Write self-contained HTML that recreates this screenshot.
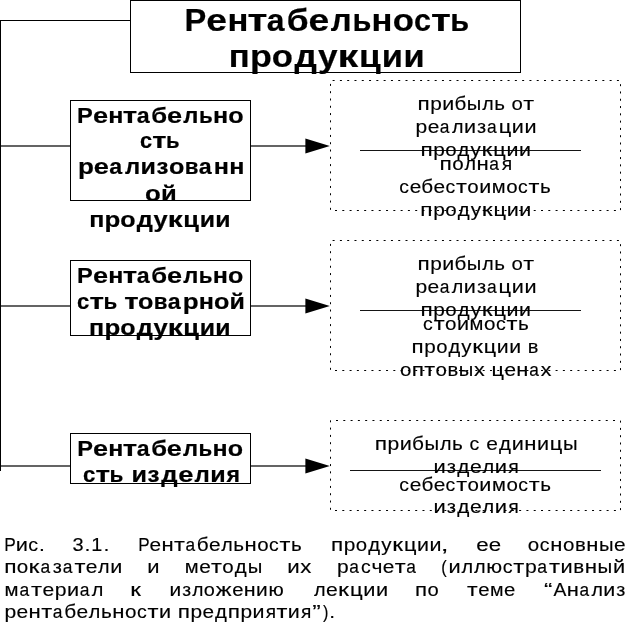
<!DOCTYPE html>
<html><head><meta charset="utf-8"><style>
html,body{margin:0;padding:0;background:#fff;}
body{width:632px;height:622px;overflow:hidden;}
svg{display:block;will-change:transform;}
text{font-family:"Liberation Sans",sans-serif;fill:#000;}
</style></head><body>
<svg width="632" height="622" viewBox="0 0 632 622">
<rect x="0" y="20" width="1" height="451" fill="#000"/>
<rect x="0" y="20" width="130" height="1" fill="#000"/>
<rect x="130.5" y="0.5" width="390" height="72" fill="#fff" stroke="#000" stroke-width="1"/>
<rect x="1" y="145" width="69" height="2" fill="#646464"/>
<rect x="251" y="145" width="55" height="2" fill="#646464"/>
<polygon points="305.4,138.4 305.4,153.6 329.8,146.0" fill="#000"/>
<rect x="1" y="305" width="69" height="2" fill="#646464"/>
<rect x="251" y="305" width="55" height="2" fill="#646464"/>
<polygon points="305.4,298.4 305.4,313.6 329.8,306.0" fill="#000"/>
<rect x="1" y="465" width="69" height="2" fill="#646464"/>
<rect x="251" y="465" width="55" height="2" fill="#646464"/>
<polygon points="305.4,458.4 305.4,473.6 329.8,466.0" fill="#000"/>
<rect x="70.5" y="100.5" width="180" height="100" fill="#fff" stroke="#000" stroke-width="1"/>
<rect x="70.5" y="260.5" width="180" height="75" fill="#fff" stroke="#000" stroke-width="1"/>
<rect x="70.5" y="433.5" width="180" height="50" fill="#fff" stroke="#000" stroke-width="1"/>
<rect x="332.60" y="80" width="2" height="1"/>
<rect x="339.89" y="80" width="2" height="1"/>
<rect x="347.18" y="80" width="2" height="1"/>
<rect x="354.47" y="80" width="2" height="1"/>
<rect x="361.76" y="80" width="2" height="1"/>
<rect x="369.05" y="80" width="2" height="1"/>
<rect x="376.34" y="80" width="2" height="1"/>
<rect x="383.63" y="80" width="2" height="1"/>
<rect x="390.92" y="80" width="2" height="1"/>
<rect x="398.21" y="80" width="2" height="1"/>
<rect x="405.50" y="80" width="2" height="1"/>
<rect x="412.79" y="80" width="2" height="1"/>
<rect x="420.08" y="80" width="2" height="1"/>
<rect x="427.37" y="80" width="2" height="1"/>
<rect x="434.66" y="80" width="2" height="1"/>
<rect x="441.95" y="80" width="2" height="1"/>
<rect x="449.24" y="80" width="2" height="1"/>
<rect x="456.53" y="80" width="2" height="1"/>
<rect x="463.82" y="80" width="2" height="1"/>
<rect x="471.11" y="80" width="2" height="1"/>
<rect x="478.40" y="80" width="2" height="1"/>
<rect x="485.69" y="80" width="2" height="1"/>
<rect x="492.98" y="80" width="2" height="1"/>
<rect x="500.27" y="80" width="2" height="1"/>
<rect x="507.56" y="80" width="2" height="1"/>
<rect x="514.85" y="80" width="2" height="1"/>
<rect x="522.14" y="80" width="2" height="1"/>
<rect x="529.43" y="80" width="2" height="1"/>
<rect x="536.72" y="80" width="2" height="1"/>
<rect x="544.01" y="80" width="2" height="1"/>
<rect x="551.30" y="80" width="2" height="1"/>
<rect x="558.59" y="80" width="2" height="1"/>
<rect x="565.88" y="80" width="2" height="1"/>
<rect x="573.17" y="80" width="2" height="1"/>
<rect x="580.46" y="80" width="2" height="1"/>
<rect x="587.75" y="80" width="2" height="1"/>
<rect x="595.04" y="80" width="2" height="1"/>
<rect x="602.33" y="80" width="2" height="1"/>
<rect x="609.62" y="80" width="2" height="1"/>
<rect x="616.91" y="80" width="2" height="1"/>
<rect x="335.00" y="210" width="2" height="1"/>
<rect x="342.29" y="210" width="2" height="1"/>
<rect x="349.58" y="210" width="2" height="1"/>
<rect x="356.87" y="210" width="2" height="1"/>
<rect x="364.16" y="210" width="2" height="1"/>
<rect x="371.45" y="210" width="2" height="1"/>
<rect x="378.74" y="210" width="2" height="1"/>
<rect x="386.03" y="210" width="2" height="1"/>
<rect x="393.32" y="210" width="2" height="1"/>
<rect x="400.61" y="210" width="2" height="1"/>
<rect x="407.90" y="210" width="2" height="1"/>
<rect x="415.19" y="210" width="2" height="1"/>
<rect x="422.48" y="210" width="2" height="1"/>
<rect x="429.77" y="210" width="2" height="1"/>
<rect x="437.06" y="210" width="2" height="1"/>
<rect x="444.35" y="210" width="2" height="1"/>
<rect x="451.64" y="210" width="2" height="1"/>
<rect x="458.93" y="210" width="2" height="1"/>
<rect x="466.22" y="210" width="2" height="1"/>
<rect x="613.90" y="210" width="2" height="1"/>
<rect x="606.61" y="210" width="2" height="1"/>
<rect x="599.32" y="210" width="2" height="1"/>
<rect x="592.03" y="210" width="2" height="1"/>
<rect x="584.74" y="210" width="2" height="1"/>
<rect x="577.45" y="210" width="2" height="1"/>
<rect x="570.16" y="210" width="2" height="1"/>
<rect x="562.87" y="210" width="2" height="1"/>
<rect x="555.58" y="210" width="2" height="1"/>
<rect x="548.29" y="210" width="2" height="1"/>
<rect x="541.00" y="210" width="2" height="1"/>
<rect x="533.71" y="210" width="2" height="1"/>
<rect x="526.42" y="210" width="2" height="1"/>
<rect x="519.13" y="210" width="2" height="1"/>
<rect x="511.84" y="210" width="2" height="1"/>
<rect x="504.55" y="210" width="2" height="1"/>
<rect x="497.26" y="210" width="2" height="1"/>
<rect x="489.97" y="210" width="2" height="1"/>
<rect x="482.68" y="210" width="2" height="1"/>
<rect x="475.39" y="210" width="2" height="1"/>
<rect x="620" y="208.10" width="1" height="2"/>
<rect x="620" y="200.81" width="1" height="2"/>
<rect x="620" y="193.52" width="1" height="2"/>
<rect x="620" y="186.23" width="1" height="2"/>
<rect x="620" y="178.94" width="1" height="2"/>
<rect x="620" y="171.65" width="1" height="2"/>
<rect x="620" y="164.36" width="1" height="2"/>
<rect x="620" y="157.07" width="1" height="2"/>
<rect x="620" y="149.78" width="1" height="2"/>
<rect x="620" y="142.49" width="1" height="2"/>
<rect x="620" y="135.20" width="1" height="2"/>
<rect x="620" y="127.91" width="1" height="2"/>
<rect x="620" y="120.62" width="1" height="2"/>
<rect x="620" y="113.33" width="1" height="2"/>
<rect x="620" y="106.04" width="1" height="2"/>
<rect x="620" y="98.75" width="1" height="2"/>
<rect x="620" y="91.46" width="1" height="2"/>
<rect x="620" y="84.17" width="1" height="2"/>
<rect x="330" y="83.90" width="1" height="2"/>
<rect x="330" y="91.19" width="1" height="2"/>
<rect x="330" y="98.48" width="1" height="2"/>
<rect x="330" y="105.77" width="1" height="2"/>
<rect x="330" y="113.06" width="1" height="2"/>
<rect x="330" y="120.35" width="1" height="2"/>
<rect x="330" y="127.64" width="1" height="2"/>
<rect x="330" y="134.93" width="1" height="2"/>
<rect x="330" y="142.22" width="1" height="2"/>
<rect x="330" y="149.51" width="1" height="2"/>
<rect x="330" y="156.80" width="1" height="2"/>
<rect x="330" y="164.09" width="1" height="2"/>
<rect x="330" y="171.38" width="1" height="2"/>
<rect x="330" y="178.67" width="1" height="2"/>
<rect x="330" y="185.96" width="1" height="2"/>
<rect x="330" y="193.25" width="1" height="2"/>
<rect x="330" y="200.54" width="1" height="2"/>
<rect x="330" y="207.83" width="1" height="2"/>
<rect x="332.60" y="240" width="2" height="1"/>
<rect x="339.89" y="240" width="2" height="1"/>
<rect x="347.18" y="240" width="2" height="1"/>
<rect x="354.47" y="240" width="2" height="1"/>
<rect x="361.76" y="240" width="2" height="1"/>
<rect x="369.05" y="240" width="2" height="1"/>
<rect x="376.34" y="240" width="2" height="1"/>
<rect x="383.63" y="240" width="2" height="1"/>
<rect x="390.92" y="240" width="2" height="1"/>
<rect x="398.21" y="240" width="2" height="1"/>
<rect x="405.50" y="240" width="2" height="1"/>
<rect x="412.79" y="240" width="2" height="1"/>
<rect x="420.08" y="240" width="2" height="1"/>
<rect x="427.37" y="240" width="2" height="1"/>
<rect x="434.66" y="240" width="2" height="1"/>
<rect x="441.95" y="240" width="2" height="1"/>
<rect x="449.24" y="240" width="2" height="1"/>
<rect x="456.53" y="240" width="2" height="1"/>
<rect x="463.82" y="240" width="2" height="1"/>
<rect x="471.11" y="240" width="2" height="1"/>
<rect x="478.40" y="240" width="2" height="1"/>
<rect x="485.69" y="240" width="2" height="1"/>
<rect x="492.98" y="240" width="2" height="1"/>
<rect x="500.27" y="240" width="2" height="1"/>
<rect x="507.56" y="240" width="2" height="1"/>
<rect x="514.85" y="240" width="2" height="1"/>
<rect x="522.14" y="240" width="2" height="1"/>
<rect x="529.43" y="240" width="2" height="1"/>
<rect x="536.72" y="240" width="2" height="1"/>
<rect x="544.01" y="240" width="2" height="1"/>
<rect x="551.30" y="240" width="2" height="1"/>
<rect x="558.59" y="240" width="2" height="1"/>
<rect x="565.88" y="240" width="2" height="1"/>
<rect x="573.17" y="240" width="2" height="1"/>
<rect x="580.46" y="240" width="2" height="1"/>
<rect x="587.75" y="240" width="2" height="1"/>
<rect x="595.04" y="240" width="2" height="1"/>
<rect x="602.33" y="240" width="2" height="1"/>
<rect x="609.62" y="240" width="2" height="1"/>
<rect x="616.91" y="240" width="2" height="1"/>
<rect x="335.00" y="370" width="2" height="1"/>
<rect x="342.29" y="370" width="2" height="1"/>
<rect x="349.58" y="370" width="2" height="1"/>
<rect x="356.87" y="370" width="2" height="1"/>
<rect x="364.16" y="370" width="2" height="1"/>
<rect x="371.45" y="370" width="2" height="1"/>
<rect x="378.74" y="370" width="2" height="1"/>
<rect x="386.03" y="370" width="2" height="1"/>
<rect x="393.32" y="370" width="2" height="1"/>
<rect x="400.61" y="370" width="2" height="1"/>
<rect x="407.90" y="370" width="2" height="1"/>
<rect x="415.19" y="370" width="2" height="1"/>
<rect x="422.48" y="370" width="2" height="1"/>
<rect x="429.77" y="370" width="2" height="1"/>
<rect x="437.06" y="370" width="2" height="1"/>
<rect x="444.35" y="370" width="2" height="1"/>
<rect x="451.64" y="370" width="2" height="1"/>
<rect x="458.93" y="370" width="2" height="1"/>
<rect x="466.22" y="370" width="2" height="1"/>
<rect x="613.90" y="370" width="2" height="1"/>
<rect x="606.61" y="370" width="2" height="1"/>
<rect x="599.32" y="370" width="2" height="1"/>
<rect x="592.03" y="370" width="2" height="1"/>
<rect x="584.74" y="370" width="2" height="1"/>
<rect x="577.45" y="370" width="2" height="1"/>
<rect x="570.16" y="370" width="2" height="1"/>
<rect x="562.87" y="370" width="2" height="1"/>
<rect x="555.58" y="370" width="2" height="1"/>
<rect x="548.29" y="370" width="2" height="1"/>
<rect x="541.00" y="370" width="2" height="1"/>
<rect x="533.71" y="370" width="2" height="1"/>
<rect x="526.42" y="370" width="2" height="1"/>
<rect x="519.13" y="370" width="2" height="1"/>
<rect x="511.84" y="370" width="2" height="1"/>
<rect x="504.55" y="370" width="2" height="1"/>
<rect x="497.26" y="370" width="2" height="1"/>
<rect x="489.97" y="370" width="2" height="1"/>
<rect x="482.68" y="370" width="2" height="1"/>
<rect x="475.39" y="370" width="2" height="1"/>
<rect x="620" y="368.10" width="1" height="2"/>
<rect x="620" y="360.81" width="1" height="2"/>
<rect x="620" y="353.52" width="1" height="2"/>
<rect x="620" y="346.23" width="1" height="2"/>
<rect x="620" y="338.94" width="1" height="2"/>
<rect x="620" y="331.65" width="1" height="2"/>
<rect x="620" y="324.36" width="1" height="2"/>
<rect x="620" y="317.07" width="1" height="2"/>
<rect x="620" y="309.78" width="1" height="2"/>
<rect x="620" y="302.49" width="1" height="2"/>
<rect x="620" y="295.20" width="1" height="2"/>
<rect x="620" y="287.91" width="1" height="2"/>
<rect x="620" y="280.62" width="1" height="2"/>
<rect x="620" y="273.33" width="1" height="2"/>
<rect x="620" y="266.04" width="1" height="2"/>
<rect x="620" y="258.75" width="1" height="2"/>
<rect x="620" y="251.46" width="1" height="2"/>
<rect x="620" y="244.17" width="1" height="2"/>
<rect x="330" y="243.90" width="1" height="2"/>
<rect x="330" y="251.19" width="1" height="2"/>
<rect x="330" y="258.48" width="1" height="2"/>
<rect x="330" y="265.77" width="1" height="2"/>
<rect x="330" y="273.06" width="1" height="2"/>
<rect x="330" y="280.35" width="1" height="2"/>
<rect x="330" y="287.64" width="1" height="2"/>
<rect x="330" y="294.93" width="1" height="2"/>
<rect x="330" y="302.22" width="1" height="2"/>
<rect x="330" y="309.51" width="1" height="2"/>
<rect x="330" y="316.80" width="1" height="2"/>
<rect x="330" y="324.09" width="1" height="2"/>
<rect x="330" y="331.38" width="1" height="2"/>
<rect x="330" y="338.67" width="1" height="2"/>
<rect x="330" y="345.96" width="1" height="2"/>
<rect x="330" y="353.25" width="1" height="2"/>
<rect x="330" y="360.54" width="1" height="2"/>
<rect x="330" y="367.83" width="1" height="2"/>
<rect x="336.00" y="420" width="2" height="1"/>
<rect x="343.29" y="420" width="2" height="1"/>
<rect x="350.58" y="420" width="2" height="1"/>
<rect x="357.87" y="420" width="2" height="1"/>
<rect x="365.16" y="420" width="2" height="1"/>
<rect x="372.45" y="420" width="2" height="1"/>
<rect x="379.74" y="420" width="2" height="1"/>
<rect x="387.03" y="420" width="2" height="1"/>
<rect x="394.32" y="420" width="2" height="1"/>
<rect x="401.61" y="420" width="2" height="1"/>
<rect x="408.90" y="420" width="2" height="1"/>
<rect x="416.19" y="420" width="2" height="1"/>
<rect x="423.48" y="420" width="2" height="1"/>
<rect x="430.77" y="420" width="2" height="1"/>
<rect x="438.06" y="420" width="2" height="1"/>
<rect x="445.35" y="420" width="2" height="1"/>
<rect x="452.64" y="420" width="2" height="1"/>
<rect x="459.93" y="420" width="2" height="1"/>
<rect x="467.22" y="420" width="2" height="1"/>
<rect x="474.51" y="420" width="2" height="1"/>
<rect x="481.80" y="420" width="2" height="1"/>
<rect x="489.09" y="420" width="2" height="1"/>
<rect x="496.38" y="420" width="2" height="1"/>
<rect x="503.67" y="420" width="2" height="1"/>
<rect x="510.96" y="420" width="2" height="1"/>
<rect x="518.25" y="420" width="2" height="1"/>
<rect x="525.54" y="420" width="2" height="1"/>
<rect x="532.83" y="420" width="2" height="1"/>
<rect x="540.12" y="420" width="2" height="1"/>
<rect x="547.41" y="420" width="2" height="1"/>
<rect x="554.70" y="420" width="2" height="1"/>
<rect x="561.99" y="420" width="2" height="1"/>
<rect x="569.28" y="420" width="2" height="1"/>
<rect x="576.57" y="420" width="2" height="1"/>
<rect x="583.86" y="420" width="2" height="1"/>
<rect x="591.15" y="420" width="2" height="1"/>
<rect x="598.44" y="420" width="2" height="1"/>
<rect x="605.73" y="420" width="2" height="1"/>
<rect x="613.02" y="420" width="2" height="1"/>
<rect x="335.00" y="510" width="2" height="1"/>
<rect x="342.29" y="510" width="2" height="1"/>
<rect x="349.58" y="510" width="2" height="1"/>
<rect x="356.87" y="510" width="2" height="1"/>
<rect x="364.16" y="510" width="2" height="1"/>
<rect x="371.45" y="510" width="2" height="1"/>
<rect x="378.74" y="510" width="2" height="1"/>
<rect x="386.03" y="510" width="2" height="1"/>
<rect x="393.32" y="510" width="2" height="1"/>
<rect x="400.61" y="510" width="2" height="1"/>
<rect x="407.90" y="510" width="2" height="1"/>
<rect x="415.19" y="510" width="2" height="1"/>
<rect x="422.48" y="510" width="2" height="1"/>
<rect x="429.77" y="510" width="2" height="1"/>
<rect x="437.06" y="510" width="2" height="1"/>
<rect x="444.35" y="510" width="2" height="1"/>
<rect x="451.64" y="510" width="2" height="1"/>
<rect x="458.93" y="510" width="2" height="1"/>
<rect x="466.22" y="510" width="2" height="1"/>
<rect x="613.90" y="510" width="2" height="1"/>
<rect x="606.61" y="510" width="2" height="1"/>
<rect x="599.32" y="510" width="2" height="1"/>
<rect x="592.03" y="510" width="2" height="1"/>
<rect x="584.74" y="510" width="2" height="1"/>
<rect x="577.45" y="510" width="2" height="1"/>
<rect x="570.16" y="510" width="2" height="1"/>
<rect x="562.87" y="510" width="2" height="1"/>
<rect x="555.58" y="510" width="2" height="1"/>
<rect x="548.29" y="510" width="2" height="1"/>
<rect x="541.00" y="510" width="2" height="1"/>
<rect x="533.71" y="510" width="2" height="1"/>
<rect x="526.42" y="510" width="2" height="1"/>
<rect x="519.13" y="510" width="2" height="1"/>
<rect x="511.84" y="510" width="2" height="1"/>
<rect x="504.55" y="510" width="2" height="1"/>
<rect x="497.26" y="510" width="2" height="1"/>
<rect x="489.97" y="510" width="2" height="1"/>
<rect x="482.68" y="510" width="2" height="1"/>
<rect x="475.39" y="510" width="2" height="1"/>
<rect x="620" y="508.10" width="1" height="2"/>
<rect x="620" y="500.81" width="1" height="2"/>
<rect x="620" y="493.52" width="1" height="2"/>
<rect x="620" y="486.23" width="1" height="2"/>
<rect x="620" y="478.94" width="1" height="2"/>
<rect x="620" y="471.65" width="1" height="2"/>
<rect x="620" y="464.36" width="1" height="2"/>
<rect x="620" y="457.07" width="1" height="2"/>
<rect x="620" y="449.78" width="1" height="2"/>
<rect x="620" y="442.49" width="1" height="2"/>
<rect x="620" y="435.20" width="1" height="2"/>
<rect x="620" y="427.91" width="1" height="2"/>
<rect x="620" y="420.62" width="1" height="2"/>
<rect x="330" y="507.80" width="1" height="2"/>
<rect x="330" y="500.51" width="1" height="2"/>
<rect x="330" y="493.22" width="1" height="2"/>
<rect x="330" y="485.93" width="1" height="2"/>
<rect x="330" y="478.64" width="1" height="2"/>
<rect x="330" y="471.35" width="1" height="2"/>
<rect x="330" y="464.06" width="1" height="2"/>
<rect x="330" y="456.77" width="1" height="2"/>
<rect x="330" y="449.48" width="1" height="2"/>
<rect x="330" y="442.19" width="1" height="2"/>
<rect x="330" y="434.90" width="1" height="2"/>
<rect x="330" y="427.61" width="1" height="2"/>
<rect x="330" y="420.32" width="1" height="2"/>
<rect x="360" y="150" width="221" height="1" fill="#151515"/>
<rect x="360" y="310" width="221" height="1" fill="#151515"/>
<rect x="350" y="470" width="251" height="1" fill="#151515"/>
<g id="t0" font-weight="bold" stroke="#000" stroke-width="0.2"><text transform="translate(184.48,31.00) scale(1.013,1)" font-size="32.2">Р</text><text transform="translate(206.25,31.00) scale(1.161,1)" font-size="32.2">е</text><text transform="translate(227.42,31.00) scale(1.076,1)" font-size="32.2">н</text><text transform="translate(247.48,31.00) scale(1.259,1)" font-size="32.2">т</text><text transform="translate(266.72,31.00) scale(0.991,1)" font-size="32.2">а</text><text transform="translate(286.79,31.00) scale(1.099,1)" font-size="32.2">б</text><text transform="translate(308.44,31.00) scale(1.161,1)" font-size="32.2">е</text><text transform="translate(330.80,31.00) scale(1.021,1)" font-size="32.2">л</text><text transform="translate(352.40,31.00) scale(0.957,1)" font-size="32.2">ь</text><text transform="translate(371.59,31.00) scale(1.076,1)" font-size="32.2">н</text><text transform="translate(392.64,31.00) scale(1.078,1)" font-size="32.2">о</text><text transform="translate(413.94,31.00) scale(0.946,1)" font-size="32.2">с</text><text transform="translate(431.02,31.00) scale(1.259,1)" font-size="32.2">т</text><text transform="translate(450.31,31.00) scale(0.957,1)" font-size="32.2">ь</text></g>
<g id="t1" font-weight="bold" stroke="#000" stroke-width="0.2"><text transform="translate(228.67,67.00) scale(1.077,1)" font-size="32.2">п</text><text transform="translate(250.00,67.00) scale(1.114,1)" font-size="32.2">р</text><text transform="translate(271.78,67.00) scale(1.079,1)" font-size="32.2">о</text><text transform="translate(294.46,67.00) scale(1.091,1)" font-size="32.2">д</text><text transform="translate(317.93,67.00) scale(1.095,1)" font-size="32.2">у</text><text transform="translate(337.62,67.00) scale(1.285,1)" font-size="32.2">к</text><text transform="translate(358.92,67.00) scale(1.096,1)" font-size="32.2">ц</text><text transform="translate(381.82,67.00) scale(1.070,1)" font-size="32.2">и</text><text transform="translate(403.39,67.00) scale(1.070,1)" font-size="32.2">и</text></g>
<g id="t2" font-weight="bold" stroke="#000" stroke-width="0.2"><text transform="translate(77.11,122.60) scale(1.038,1)" font-size="22.8">Р</text><text transform="translate(92.91,122.60) scale(1.190,1)" font-size="22.8">е</text><text transform="translate(108.27,122.60) scale(1.103,1)" font-size="22.8">н</text><text transform="translate(122.83,122.60) scale(1.290,1)" font-size="22.8">т</text><text transform="translate(136.80,122.60) scale(1.016,1)" font-size="22.8">а</text><text transform="translate(151.36,122.60) scale(1.127,1)" font-size="22.8">б</text><text transform="translate(167.07,122.60) scale(1.190,1)" font-size="22.8">е</text><text transform="translate(183.30,122.60) scale(1.046,1)" font-size="22.8">л</text><text transform="translate(198.98,122.60) scale(0.981,1)" font-size="22.8">ь</text><text transform="translate(212.90,122.60) scale(1.103,1)" font-size="22.8">н</text><text transform="translate(228.19,122.60) scale(1.105,1)" font-size="22.8">о</text></g>
<g id="t3" font-weight="bold" stroke="#000" stroke-width="0.2"><text transform="translate(139.97,148.40) scale(0.957,1)" font-size="22.8">с</text><text transform="translate(152.20,148.40) scale(1.273,1)" font-size="22.8">т</text><text transform="translate(166.01,148.40) scale(0.968,1)" font-size="22.8">ь</text></g>
<g id="t4" font-weight="bold" stroke="#000" stroke-width="0.2"><text transform="translate(77.93,174.40) scale(1.142,1)" font-size="22.8">р</text><text transform="translate(93.68,174.40) scale(1.192,1)" font-size="22.8">е</text><text transform="translate(109.22,174.40) scale(1.017,1)" font-size="22.8">а</text><text transform="translate(125.02,174.40) scale(1.048,1)" font-size="22.8">л</text><text transform="translate(140.55,174.40) scale(1.097,1)" font-size="22.8">и</text><text transform="translate(156.54,174.40) scale(1.051,1)" font-size="22.8">з</text><text transform="translate(169.03,174.40) scale(1.106,1)" font-size="22.8">о</text><text transform="translate(184.74,174.40) scale(0.979,1)" font-size="22.8">в</text><text transform="translate(198.85,174.40) scale(1.017,1)" font-size="22.8">а</text><text transform="translate(213.77,174.40) scale(1.104,1)" font-size="22.8">н</text><text transform="translate(229.22,174.40) scale(1.104,1)" font-size="22.8">н</text></g>
<g id="t5" font-weight="bold" stroke="#000" stroke-width="0.2"><text transform="translate(145.00,200.50) scale(1.133,1)" font-size="22.8">о</text><text transform="translate(160.91,200.50) scale(1.124,1)" font-size="22.8">й</text></g>
<g id="t6" font-weight="bold" stroke="#000" stroke-width="0.2"><text transform="translate(89.14,226.70) scale(1.098,1)" font-size="22.8">п</text><text transform="translate(104.54,226.70) scale(1.136,1)" font-size="22.8">р</text><text transform="translate(120.27,226.70) scale(1.100,1)" font-size="22.8">о</text><text transform="translate(136.65,226.70) scale(1.113,1)" font-size="22.8">д</text><text transform="translate(153.60,226.70) scale(1.116,1)" font-size="22.8">у</text><text transform="translate(167.82,226.70) scale(1.311,1)" font-size="22.8">к</text><text transform="translate(183.20,226.70) scale(1.117,1)" font-size="22.8">ц</text><text transform="translate(199.73,226.70) scale(1.091,1)" font-size="22.8">и</text><text transform="translate(215.31,226.70) scale(1.091,1)" font-size="22.8">и</text></g>
<g id="t7" font-weight="bold" stroke="#000" stroke-width="0.2"><text transform="translate(77.12,282.60) scale(1.037,1)" font-size="22.8">Р</text><text transform="translate(92.89,282.60) scale(1.188,1)" font-size="22.8">е</text><text transform="translate(108.23,282.60) scale(1.101,1)" font-size="22.8">н</text><text transform="translate(122.77,282.60) scale(1.288,1)" font-size="22.8">т</text><text transform="translate(136.71,282.60) scale(1.014,1)" font-size="22.8">а</text><text transform="translate(151.26,282.60) scale(1.125,1)" font-size="22.8">б</text><text transform="translate(166.94,282.60) scale(1.188,1)" font-size="22.8">е</text><text transform="translate(183.14,282.60) scale(1.045,1)" font-size="22.8">л</text><text transform="translate(198.80,282.60) scale(0.980,1)" font-size="22.8">ь</text><text transform="translate(212.70,282.60) scale(1.101,1)" font-size="22.8">н</text><text transform="translate(227.96,282.60) scale(1.103,1)" font-size="22.8">о</text></g>
<g id="t8" font-weight="bold" stroke="#000" stroke-width="0.2"><text transform="translate(77.07,308.50) scale(0.970,1)" font-size="22.8">с</text><text transform="translate(89.47,308.50) scale(1.291,1)" font-size="22.8">т</text><text transform="translate(103.47,308.50) scale(0.981,1)" font-size="22.8">ь</text><text transform="translate(124.31,308.50) scale(1.291,1)" font-size="22.8">т</text><text transform="translate(137.98,308.50) scale(1.105,1)" font-size="22.8">о</text><text transform="translate(153.67,308.50) scale(0.978,1)" font-size="22.8">в</text><text transform="translate(167.76,308.50) scale(1.016,1)" font-size="22.8">а</text><text transform="translate(182.71,308.50) scale(1.141,1)" font-size="22.8">р</text><text transform="translate(198.66,308.50) scale(1.103,1)" font-size="22.8">н</text><text transform="translate(213.95,308.50) scale(1.105,1)" font-size="22.8">о</text><text transform="translate(229.46,308.50) scale(1.096,1)" font-size="22.8">й</text></g>
<g id="t9" font-weight="bold" stroke="#000" stroke-width="0.2"><text transform="translate(89.12,334.70) scale(1.098,1)" font-size="22.8">п</text><text transform="translate(104.52,334.70) scale(1.136,1)" font-size="22.8">р</text><text transform="translate(120.26,334.70) scale(1.100,1)" font-size="22.8">о</text><text transform="translate(136.63,334.70) scale(1.113,1)" font-size="22.8">д</text><text transform="translate(153.59,334.70) scale(1.117,1)" font-size="22.8">у</text><text transform="translate(167.81,334.70) scale(1.311,1)" font-size="22.8">к</text><text transform="translate(183.19,334.70) scale(1.118,1)" font-size="22.8">ц</text><text transform="translate(199.73,334.70) scale(1.091,1)" font-size="22.8">и</text><text transform="translate(215.31,334.70) scale(1.091,1)" font-size="22.8">и</text></g>
<g id="t10" font-weight="bold" stroke="#000" stroke-width="0.2"><text transform="translate(77.19,456.00) scale(1.035,1)" font-size="22.8">Р</text><text transform="translate(92.93,456.00) scale(1.186,1)" font-size="22.8">е</text><text transform="translate(108.24,456.00) scale(1.099,1)" font-size="22.8">н</text><text transform="translate(122.74,456.00) scale(1.286,1)" font-size="22.8">т</text><text transform="translate(136.66,456.00) scale(1.012,1)" font-size="22.8">а</text><text transform="translate(151.17,456.00) scale(1.122,1)" font-size="22.8">б</text><text transform="translate(166.82,456.00) scale(1.186,1)" font-size="22.8">е</text><text transform="translate(183.00,456.00) scale(1.043,1)" font-size="22.8">л</text><text transform="translate(198.62,456.00) scale(0.978,1)" font-size="22.8">ь</text><text transform="translate(212.49,456.00) scale(1.099,1)" font-size="22.8">н</text><text transform="translate(227.72,456.00) scale(1.101,1)" font-size="22.8">о</text></g>
<g id="t11" font-weight="bold" stroke="#000" stroke-width="0.2"><text transform="translate(83.01,481.90) scale(0.977,1)" font-size="22.8">с</text><text transform="translate(95.50,481.90) scale(1.300,1)" font-size="22.8">т</text><text transform="translate(109.60,481.90) scale(0.988,1)" font-size="22.8">ь</text><text transform="translate(131.48,481.90) scale(1.104,1)" font-size="22.8">и</text><text transform="translate(147.57,481.90) scale(1.057,1)" font-size="22.8">з</text><text transform="translate(161.25,481.90) scale(1.126,1)" font-size="22.8">д</text><text transform="translate(178.23,481.90) scale(1.199,1)" font-size="22.8">е</text><text transform="translate(194.58,481.90) scale(1.054,1)" font-size="22.8">л</text><text transform="translate(210.20,481.90) scale(1.104,1)" font-size="22.8">и</text><text transform="translate(226.52,481.90) scale(1.015,1)" font-size="22.8">я</text></g>
<g id="t12" stroke="#000" stroke-width="0.15"><text transform="translate(417.50,110.00) scale(1.173,1)" font-size="19.2">п</text><text transform="translate(430.28,110.00) scale(1.089,1)" font-size="19.2">р</text><text transform="translate(442.34,110.00) scale(1.116,1)" font-size="19.2">и</text><text transform="translate(454.41,110.00) scale(1.075,1)" font-size="19.2">б</text><text transform="translate(466.76,110.00) scale(1.052,1)" font-size="19.2">ы</text><text transform="translate(482.20,110.00) scale(1.021,1)" font-size="19.2">л</text><text transform="translate(494.19,110.00) scale(1.071,1)" font-size="19.2">ь</text><text transform="translate(511.50,110.00) scale(1.064,1)" font-size="19.2">о</text><text transform="translate(523.21,110.00) scale(1.237,1)" font-size="19.2">т</text></g>
<g id="t13" stroke="#000" stroke-width="0.15"><text transform="translate(415.59,132.80) scale(1.098,1)" font-size="19.2">р</text><text transform="translate(427.66,132.80) scale(1.090,1)" font-size="19.2">е</text><text transform="translate(439.82,132.80) scale(0.907,1)" font-size="19.2">а</text><text transform="translate(451.88,132.80) scale(1.029,1)" font-size="19.2">л</text><text transform="translate(463.91,132.80) scale(1.125,1)" font-size="19.2">и</text><text transform="translate(477.02,132.80) scale(1.036,1)" font-size="19.2">з</text><text transform="translate(486.96,132.80) scale(0.907,1)" font-size="19.2">а</text><text transform="translate(498.64,132.80) scale(1.142,1)" font-size="19.2">ц</text><text transform="translate(511.85,132.80) scale(1.125,1)" font-size="19.2">и</text><text transform="translate(524.44,132.80) scale(1.125,1)" font-size="19.2">и</text></g>
<g id="t14" stroke="#000" stroke-width="0.15"><text transform="translate(420.38,155.60) scale(1.174,1)" font-size="19.2">п</text><text transform="translate(433.17,155.60) scale(1.090,1)" font-size="19.2">р</text><text transform="translate(445.19,155.60) scale(1.065,1)" font-size="19.2">о</text><text transform="translate(457.56,155.60) scale(1.056,1)" font-size="19.2">д</text><text transform="translate(470.58,155.60) scale(1.076,1)" font-size="19.2">у</text><text transform="translate(481.53,155.60) scale(1.282,1)" font-size="19.2">к</text><text transform="translate(493.30,155.60) scale(1.134,1)" font-size="19.2">ц</text><text transform="translate(506.41,155.60) scale(1.117,1)" font-size="19.2">и</text><text transform="translate(518.92,155.60) scale(1.117,1)" font-size="19.2">и</text></g>
<g id="t15" stroke="#000" stroke-width="0.15"><text transform="translate(439.41,170.00) scale(1.186,1)" font-size="19.2">п</text><text transform="translate(452.14,170.00) scale(1.076,1)" font-size="19.2">о</text><text transform="translate(464.44,170.00) scale(1.033,1)" font-size="19.2">л</text><text transform="translate(476.47,170.00) scale(1.156,1)" font-size="19.2">н</text><text transform="translate(489.37,170.00) scale(0.910,1)" font-size="19.2">а</text><text transform="translate(501.80,170.00) scale(1.004,1)" font-size="19.2">я</text></g>
<g id="t16" stroke="#000" stroke-width="0.15"><text transform="translate(399.30,192.60) scale(1.008,1)" font-size="19.2">с</text><text transform="translate(409.84,192.60) scale(1.085,1)" font-size="19.2">е</text><text transform="translate(421.37,192.60) scale(1.079,1)" font-size="19.2">б</text><text transform="translate(433.60,192.60) scale(1.085,1)" font-size="19.2">е</text><text transform="translate(445.53,192.60) scale(1.008,1)" font-size="19.2">с</text><text transform="translate(456.05,192.60) scale(1.242,1)" font-size="19.2">т</text><text transform="translate(467.34,192.60) scale(1.068,1)" font-size="19.2">о</text><text transform="translate(479.19,192.60) scale(1.120,1)" font-size="19.2">и</text><text transform="translate(491.83,192.60) scale(1.048,1)" font-size="19.2">м</text><text transform="translate(506.23,192.60) scale(1.068,1)" font-size="19.2">о</text><text transform="translate(518.07,192.60) scale(1.008,1)" font-size="19.2">с</text><text transform="translate(528.59,192.60) scale(1.242,1)" font-size="19.2">т</text><text transform="translate(539.99,192.60) scale(1.075,1)" font-size="19.2">ь</text></g>
<g id="t17" stroke="#000" stroke-width="0.15"><text transform="translate(420.35,215.60) scale(1.180,1)" font-size="19.2">п</text><text transform="translate(433.20,215.60) scale(1.095,1)" font-size="19.2">р</text><text transform="translate(445.27,215.60) scale(1.070,1)" font-size="19.2">о</text><text transform="translate(457.70,215.60) scale(1.061,1)" font-size="19.2">д</text><text transform="translate(470.77,215.60) scale(1.081,1)" font-size="19.2">у</text><text transform="translate(481.77,215.60) scale(1.288,1)" font-size="19.2">к</text><text transform="translate(493.59,215.60) scale(1.139,1)" font-size="19.2">ц</text><text transform="translate(506.76,215.60) scale(1.122,1)" font-size="19.2">и</text><text transform="translate(519.32,215.60) scale(1.122,1)" font-size="19.2">и</text></g>
<g id="t18" stroke="#000" stroke-width="0.15"><text transform="translate(417.50,270.00) scale(1.173,1)" font-size="19.2">п</text><text transform="translate(430.28,270.00) scale(1.089,1)" font-size="19.2">р</text><text transform="translate(442.34,270.00) scale(1.116,1)" font-size="19.2">и</text><text transform="translate(454.41,270.00) scale(1.075,1)" font-size="19.2">б</text><text transform="translate(466.76,270.00) scale(1.052,1)" font-size="19.2">ы</text><text transform="translate(482.20,270.00) scale(1.021,1)" font-size="19.2">л</text><text transform="translate(494.19,270.00) scale(1.071,1)" font-size="19.2">ь</text><text transform="translate(511.50,270.00) scale(1.064,1)" font-size="19.2">о</text><text transform="translate(523.21,270.00) scale(1.237,1)" font-size="19.2">т</text></g>
<g id="t19" stroke="#000" stroke-width="0.15"><text transform="translate(415.46,292.60) scale(1.099,1)" font-size="19.2">р</text><text transform="translate(427.55,292.60) scale(1.091,1)" font-size="19.2">е</text><text transform="translate(439.72,292.60) scale(0.908,1)" font-size="19.2">а</text><text transform="translate(451.80,292.60) scale(1.031,1)" font-size="19.2">л</text><text transform="translate(463.84,292.60) scale(1.126,1)" font-size="19.2">и</text><text transform="translate(476.97,292.60) scale(1.037,1)" font-size="19.2">з</text><text transform="translate(486.92,292.60) scale(0.908,1)" font-size="19.2">а</text><text transform="translate(498.62,292.60) scale(1.144,1)" font-size="19.2">ц</text><text transform="translate(511.85,292.60) scale(1.126,1)" font-size="19.2">и</text><text transform="translate(524.45,292.60) scale(1.126,1)" font-size="19.2">и</text></g>
<g id="t20" stroke="#000" stroke-width="0.15"><text transform="translate(420.50,315.60) scale(1.174,1)" font-size="19.2">п</text><text transform="translate(433.29,315.60) scale(1.090,1)" font-size="19.2">р</text><text transform="translate(445.30,315.60) scale(1.065,1)" font-size="19.2">о</text><text transform="translate(457.68,315.60) scale(1.056,1)" font-size="19.2">д</text><text transform="translate(470.69,315.60) scale(1.076,1)" font-size="19.2">у</text><text transform="translate(481.64,315.60) scale(1.282,1)" font-size="19.2">к</text><text transform="translate(493.40,315.60) scale(1.134,1)" font-size="19.2">ц</text><text transform="translate(506.52,315.60) scale(1.117,1)" font-size="19.2">и</text><text transform="translate(519.02,315.60) scale(1.117,1)" font-size="19.2">и</text></g>
<g id="t21" stroke="#000" stroke-width="0.15"><text transform="translate(423.06,330.00) scale(1.014,1)" font-size="19.2">с</text><text transform="translate(433.64,330.00) scale(1.249,1)" font-size="19.2">т</text><text transform="translate(444.98,330.00) scale(1.074,1)" font-size="19.2">о</text><text transform="translate(456.91,330.00) scale(1.127,1)" font-size="19.2">и</text><text transform="translate(469.61,330.00) scale(1.053,1)" font-size="19.2">м</text><text transform="translate(484.09,330.00) scale(1.074,1)" font-size="19.2">о</text><text transform="translate(496.00,330.00) scale(1.014,1)" font-size="19.2">с</text><text transform="translate(506.58,330.00) scale(1.249,1)" font-size="19.2">т</text><text transform="translate(518.04,330.00) scale(1.081,1)" font-size="19.2">ь</text></g>
<g id="t22" stroke="#000" stroke-width="0.15"><text transform="translate(411.56,352.80) scale(1.163,1)" font-size="19.2">п</text><text transform="translate(424.23,352.80) scale(1.080,1)" font-size="19.2">р</text><text transform="translate(436.13,352.80) scale(1.055,1)" font-size="19.2">о</text><text transform="translate(448.39,352.80) scale(1.047,1)" font-size="19.2">д</text><text transform="translate(461.29,352.80) scale(1.066,1)" font-size="19.2">у</text><text transform="translate(472.14,352.80) scale(1.271,1)" font-size="19.2">к</text><text transform="translate(483.80,352.80) scale(1.124,1)" font-size="19.2">ц</text><text transform="translate(496.79,352.80) scale(1.107,1)" font-size="19.2">и</text><text transform="translate(509.18,352.80) scale(1.107,1)" font-size="19.2">и</text><text transform="translate(527.71,352.80) scale(1.042,1)" font-size="19.2">в</text></g>
<g id="t23" stroke="#000" stroke-width="0.15"><text transform="translate(399.91,375.70) scale(1.067,1)" font-size="19.2">о</text><text transform="translate(411.68,375.70) scale(1.176,1)" font-size="19.2">п</text><text transform="translate(424.25,375.70) scale(1.240,1)" font-size="19.2">т</text><text transform="translate(435.51,375.70) scale(1.067,1)" font-size="19.2">о</text><text transform="translate(447.44,375.70) scale(1.054,1)" font-size="19.2">в</text><text transform="translate(458.79,375.70) scale(1.055,1)" font-size="19.2">ы</text><text transform="translate(473.97,375.70) scale(1.113,1)" font-size="19.2">х</text><text transform="translate(491.42,375.70) scale(1.136,1)" font-size="19.2">ц</text><text transform="translate(504.47,375.70) scale(1.084,1)" font-size="19.2">е</text><text transform="translate(516.37,375.70) scale(1.145,1)" font-size="19.2">н</text><text transform="translate(529.16,375.70) scale(0.902,1)" font-size="19.2">а</text><text transform="translate(540.85,375.70) scale(1.113,1)" font-size="19.2">х</text></g>
<g id="t24" stroke="#000" stroke-width="0.15"><text transform="translate(374.65,449.80) scale(1.184,1)" font-size="19.2">п</text><text transform="translate(387.55,449.80) scale(1.099,1)" font-size="19.2">р</text><text transform="translate(399.72,449.80) scale(1.127,1)" font-size="19.2">и</text><text transform="translate(411.91,449.80) scale(1.086,1)" font-size="19.2">б</text><text transform="translate(424.38,449.80) scale(1.062,1)" font-size="19.2">ы</text><text transform="translate(439.96,449.80) scale(1.031,1)" font-size="19.2">л</text><text transform="translate(452.07,449.80) scale(1.081,1)" font-size="19.2">ь</text><text transform="translate(469.59,449.80) scale(1.014,1)" font-size="19.2">с</text><text transform="translate(486.36,449.80) scale(1.091,1)" font-size="19.2">е</text><text transform="translate(498.93,449.80) scale(1.065,1)" font-size="19.2">д</text><text transform="translate(511.79,449.80) scale(1.127,1)" font-size="19.2">и</text><text transform="translate(524.37,449.80) scale(1.154,1)" font-size="19.2">н</text><text transform="translate(537.09,449.80) scale(1.127,1)" font-size="19.2">и</text><text transform="translate(549.67,449.80) scale(1.144,1)" font-size="19.2">ц</text><text transform="translate(562.98,449.80) scale(1.062,1)" font-size="19.2">ы</text></g>
<g id="t25" stroke="#000" stroke-width="0.15"><text transform="translate(433.40,472.70) scale(1.140,1)" font-size="19.2">и</text><text transform="translate(446.68,472.70) scale(1.050,1)" font-size="19.2">з</text><text transform="translate(457.15,472.70) scale(1.078,1)" font-size="19.2">д</text><text transform="translate(470.09,472.70) scale(1.104,1)" font-size="19.2">е</text><text transform="translate(482.60,472.70) scale(1.043,1)" font-size="19.2">л</text><text transform="translate(494.79,472.70) scale(1.140,1)" font-size="19.2">и</text><text transform="translate(508.24,472.70) scale(1.014,1)" font-size="19.2">я</text></g>
<g id="t26" stroke="#000" stroke-width="0.15"><text transform="translate(399.28,490.80) scale(1.010,1)" font-size="19.2">с</text><text transform="translate(409.85,490.80) scale(1.087,1)" font-size="19.2">е</text><text transform="translate(421.40,490.80) scale(1.082,1)" font-size="19.2">б</text><text transform="translate(433.66,490.80) scale(1.087,1)" font-size="19.2">е</text><text transform="translate(445.61,490.80) scale(1.010,1)" font-size="19.2">с</text><text transform="translate(456.16,490.80) scale(1.244,1)" font-size="19.2">т</text><text transform="translate(467.46,490.80) scale(1.070,1)" font-size="19.2">о</text><text transform="translate(479.34,490.80) scale(1.123,1)" font-size="19.2">и</text><text transform="translate(492.00,490.80) scale(1.050,1)" font-size="19.2">м</text><text transform="translate(506.43,490.80) scale(1.070,1)" font-size="19.2">о</text><text transform="translate(518.29,490.80) scale(1.010,1)" font-size="19.2">с</text><text transform="translate(528.84,490.80) scale(1.244,1)" font-size="19.2">т</text><text transform="translate(540.26,490.80) scale(1.077,1)" font-size="19.2">ь</text></g>
<g id="t27" stroke="#000" stroke-width="0.15"><text transform="translate(433.40,512.90) scale(1.140,1)" font-size="19.2">и</text><text transform="translate(446.68,512.90) scale(1.050,1)" font-size="19.2">з</text><text transform="translate(457.15,512.90) scale(1.078,1)" font-size="19.2">д</text><text transform="translate(470.09,512.90) scale(1.104,1)" font-size="19.2">е</text><text transform="translate(482.60,512.90) scale(1.043,1)" font-size="19.2">л</text><text transform="translate(494.79,512.90) scale(1.140,1)" font-size="19.2">и</text><text transform="translate(508.24,512.90) scale(1.014,1)" font-size="19.2">я</text></g>
<g id="t28" stroke="#000" stroke-width="0.15"><text transform="translate(4.13,550.80) scale(0.900,1)" font-size="19.2">Р</text><text transform="translate(15.67,550.80) scale(1.135,1)" font-size="19.2">и</text><text transform="translate(28.35,550.80) scale(1.021,1)" font-size="19.2">с</text><text transform="translate(39.00,550.80) scale(1.101,1)" font-size="19.2">.</text></g>
<g id="t29" stroke="#000" stroke-width="0.15"><text transform="translate(72.60,550.80) scale(1.041,1)" font-size="19.2">3</text><text transform="translate(84.58,550.80) scale(1.113,1)" font-size="19.2">.</text><text transform="translate(91.35,550.80) scale(1.035,1)" font-size="19.2">1</text><text transform="translate(103.42,550.80) scale(1.113,1)" font-size="19.2">.</text></g>
<g id="t30" stroke="#000" stroke-width="0.15"><text transform="translate(138.19,550.80) scale(0.889,1)" font-size="19.2">Р</text><text transform="translate(149.52,550.80) scale(1.086,1)" font-size="19.2">е</text><text transform="translate(161.43,550.80) scale(1.147,1)" font-size="19.2">н</text><text transform="translate(173.98,550.80) scale(1.242,1)" font-size="19.2">т</text><text transform="translate(185.49,550.80) scale(0.904,1)" font-size="19.2">а</text><text transform="translate(196.73,550.80) scale(1.080,1)" font-size="19.2">б</text><text transform="translate(208.97,550.80) scale(1.086,1)" font-size="19.2">е</text><text transform="translate(221.27,550.80) scale(1.025,1)" font-size="19.2">л</text><text transform="translate(233.32,550.80) scale(1.076,1)" font-size="19.2">ь</text><text transform="translate(244.60,550.80) scale(1.147,1)" font-size="19.2">н</text><text transform="translate(257.19,550.80) scale(1.068,1)" font-size="19.2">о</text><text transform="translate(269.04,550.80) scale(1.008,1)" font-size="19.2">с</text><text transform="translate(279.56,550.80) scale(1.242,1)" font-size="19.2">т</text><text transform="translate(290.97,550.80) scale(1.076,1)" font-size="19.2">ь</text></g>
<g id="t31" stroke="#000" stroke-width="0.15"><text transform="translate(331.06,550.80) scale(1.173,1)" font-size="19.2">п</text><text transform="translate(343.84,550.80) scale(1.089,1)" font-size="19.2">р</text><text transform="translate(355.84,550.80) scale(1.064,1)" font-size="19.2">о</text><text transform="translate(368.19,550.80) scale(1.055,1)" font-size="19.2">д</text><text transform="translate(381.19,550.80) scale(1.075,1)" font-size="19.2">у</text><text transform="translate(392.13,550.80) scale(1.281,1)" font-size="19.2">к</text><text transform="translate(403.88,550.80) scale(1.133,1)" font-size="19.2">ц</text><text transform="translate(416.98,550.80) scale(1.116,1)" font-size="19.2">и</text><text transform="translate(429.47,550.80) scale(1.116,1)" font-size="19.2">и</text><text transform="translate(440.66,550.80) scale(1.459,1)" font-size="19.2">,</text></g>
<g id="t32" stroke="#000" stroke-width="0.15"><text transform="translate(476.13,550.80) scale(1.161,1)" font-size="19.2">е</text><text transform="translate(488.83,550.80) scale(1.161,1)" font-size="19.2">е</text></g>
<g id="t33" stroke="#000" stroke-width="0.15"><text transform="translate(527.83,550.80) scale(1.070,1)" font-size="19.2">о</text><text transform="translate(539.70,550.80) scale(1.010,1)" font-size="19.2">с</text><text transform="translate(550.31,550.80) scale(1.149,1)" font-size="19.2">н</text><text transform="translate(562.92,550.80) scale(1.070,1)" font-size="19.2">о</text><text transform="translate(574.89,550.80) scale(1.057,1)" font-size="19.2">в</text><text transform="translate(586.16,550.80) scale(1.149,1)" font-size="19.2">н</text><text transform="translate(598.92,550.80) scale(1.058,1)" font-size="19.2">ы</text><text transform="translate(614.01,550.80) scale(1.087,1)" font-size="19.2">е</text></g>
<g id="t34" stroke="#000" stroke-width="0.15"><text transform="translate(4.13,573.00) scale(1.184,1)" font-size="19.2">п</text><text transform="translate(16.83,573.00) scale(1.074,1)" font-size="19.2">о</text><text transform="translate(28.58,573.00) scale(1.293,1)" font-size="19.2">к</text><text transform="translate(40.62,573.00) scale(0.908,1)" font-size="19.2">а</text><text transform="translate(52.86,573.00) scale(1.037,1)" font-size="19.2">з</text><text transform="translate(62.81,573.00) scale(0.908,1)" font-size="19.2">а</text><text transform="translate(74.43,573.00) scale(1.248,1)" font-size="19.2">т</text><text transform="translate(85.75,573.00) scale(1.091,1)" font-size="19.2">е</text><text transform="translate(98.11,573.00) scale(1.030,1)" font-size="19.2">л</text><text transform="translate(110.15,573.00) scale(1.126,1)" font-size="19.2">и</text></g>
<g id="t35" stroke="#000" stroke-width="0.15"><text transform="translate(147.23,573.00) scale(1.143,1)" font-size="19.2">и</text></g>
<g id="t36" stroke="#000" stroke-width="0.15"><text transform="translate(184.74,573.00) scale(1.050,1)" font-size="19.2">м</text><text transform="translate(199.16,573.00) scale(1.088,1)" font-size="19.2">е</text><text transform="translate(211.03,573.00) scale(1.245,1)" font-size="19.2">т</text><text transform="translate(222.35,573.00) scale(1.071,1)" font-size="19.2">о</text><text transform="translate(234.79,573.00) scale(1.062,1)" font-size="19.2">д</text><text transform="translate(247.69,573.00) scale(1.059,1)" font-size="19.2">ы</text></g>
<g id="t37" stroke="#000" stroke-width="0.15"><text transform="translate(287.24,573.00) scale(1.161,1)" font-size="19.2">и</text><text transform="translate(300.30,573.00) scale(1.155,1)" font-size="19.2">х</text></g>
<g id="t38" stroke="#000" stroke-width="0.15"><text transform="translate(336.99,573.00) scale(1.094,1)" font-size="19.2">р</text><text transform="translate(349.26,573.00) scale(0.904,1)" font-size="19.2">а</text><text transform="translate(360.91,573.00) scale(1.009,1)" font-size="19.2">с</text><text transform="translate(371.44,573.00) scale(1.095,1)" font-size="19.2">ч</text><text transform="translate(382.86,573.00) scale(1.086,1)" font-size="19.2">е</text><text transform="translate(394.71,573.00) scale(1.243,1)" font-size="19.2">т</text><text transform="translate(406.22,573.00) scale(0.904,1)" font-size="19.2">а</text></g>
<g id="t39" stroke="#000" stroke-width="0.15"><text transform="translate(441.33,573.00) scale(0.860,1)" font-size="19.2">(</text><text transform="translate(448.56,573.00) scale(1.135,1)" font-size="19.2">и</text><text transform="translate(461.61,573.00) scale(1.038,1)" font-size="19.2">л</text><text transform="translate(474.10,573.00) scale(1.038,1)" font-size="19.2">л</text><text transform="translate(486.34,573.00) scale(1.104,1)" font-size="19.2">ю</text><text transform="translate(502.65,573.00) scale(1.021,1)" font-size="19.2">с</text><text transform="translate(513.31,573.00) scale(1.258,1)" font-size="19.2">т</text><text transform="translate(524.93,573.00) scale(1.107,1)" font-size="19.2">р</text><text transform="translate(537.36,573.00) scale(0.915,1)" font-size="19.2">а</text><text transform="translate(549.06,573.00) scale(1.258,1)" font-size="19.2">т</text><text transform="translate(560.54,573.00) scale(1.135,1)" font-size="19.2">и</text><text transform="translate(573.33,573.00) scale(1.068,1)" font-size="19.2">в</text><text transform="translate(584.72,573.00) scale(1.162,1)" font-size="19.2">н</text><text transform="translate(597.61,573.00) scale(1.070,1)" font-size="19.2">ы</text><text transform="translate(612.95,573.00) scale(1.135,1)" font-size="19.2">й</text></g>
<g id="t40" stroke="#000" stroke-width="0.15"><text transform="translate(4.61,595.80) scale(1.059,1)" font-size="19.2">м</text><text transform="translate(19.38,595.80) scale(0.913,1)" font-size="19.2">а</text><text transform="translate(31.06,595.80) scale(1.255,1)" font-size="19.2">т</text><text transform="translate(42.44,595.80) scale(1.097,1)" font-size="19.2">е</text><text transform="translate(54.66,595.80) scale(1.105,1)" font-size="19.2">р</text><text transform="translate(66.90,595.80) scale(1.132,1)" font-size="19.2">и</text><text transform="translate(79.73,595.80) scale(0.913,1)" font-size="19.2">а</text><text transform="translate(91.87,595.80) scale(1.036,1)" font-size="19.2">л</text></g>
<g id="t41" stroke="#000" stroke-width="0.15"><text transform="translate(130.28,595.80) scale(1.269,1)" font-size="19.2">к</text></g>
<g id="t42" stroke="#000" stroke-width="0.15"><text transform="translate(169.62,595.80) scale(1.091,1)" font-size="19.2">и</text><text transform="translate(182.34,595.80) scale(1.005,1)" font-size="19.2">з</text><text transform="translate(192.17,595.80) scale(0.998,1)" font-size="19.2">л</text><text transform="translate(203.78,595.80) scale(1.040,1)" font-size="19.2">о</text><text transform="translate(215.64,595.80) scale(1.230,1)" font-size="19.2">ж</text><text transform="translate(232.17,595.80) scale(1.057,1)" font-size="19.2">е</text><text transform="translate(243.78,595.80) scale(1.117,1)" font-size="19.2">н</text><text transform="translate(256.10,595.80) scale(1.091,1)" font-size="19.2">и</text><text transform="translate(268.41,595.80) scale(1.062,1)" font-size="19.2">ю</text></g>
<g id="t43" stroke="#000" stroke-width="0.15"><text transform="translate(314.03,595.80) scale(1.038,1)" font-size="19.2">л</text><text transform="translate(326.08,595.80) scale(1.099,1)" font-size="19.2">е</text><text transform="translate(338.01,595.80) scale(1.302,1)" font-size="19.2">к</text><text transform="translate(349.96,595.80) scale(1.152,1)" font-size="19.2">ц</text><text transform="translate(363.28,595.80) scale(1.135,1)" font-size="19.2">и</text><text transform="translate(375.98,595.80) scale(1.135,1)" font-size="19.2">и</text></g>
<g id="t44" stroke="#000" stroke-width="0.15"><text transform="translate(415.12,595.80) scale(1.160,1)" font-size="19.2">п</text><text transform="translate(427.57,595.80) scale(1.053,1)" font-size="19.2">о</text></g>
<g id="t45" stroke="#000" stroke-width="0.15"><text transform="translate(467.12,595.80) scale(1.215,1)" font-size="19.2">т</text><text transform="translate(478.14,595.80) scale(1.062,1)" font-size="19.2">е</text><text transform="translate(489.92,595.80) scale(1.025,1)" font-size="19.2">м</text><text transform="translate(503.99,595.80) scale(1.062,1)" font-size="19.2">е</text></g>
<g id="t46" stroke="#000" stroke-width="0.15"><text transform="translate(544.03,595.80) scale(1.323,1)" font-size="19.2">“</text><text transform="translate(553.40,595.80) scale(1.009,1)" font-size="19.2">А</text><text transform="translate(566.66,595.80) scale(1.143,1)" font-size="19.2">н</text><text transform="translate(579.43,595.80) scale(0.901,1)" font-size="19.2">а</text><text transform="translate(591.40,595.80) scale(1.022,1)" font-size="19.2">л</text><text transform="translate(603.34,595.80) scale(1.117,1)" font-size="19.2">и</text><text transform="translate(616.36,595.80) scale(1.029,1)" font-size="19.2">з</text></g>
<g id="t47" stroke="#000" stroke-width="0.15"><text transform="translate(4.50,617.90) scale(1.101,1)" font-size="19.2">р</text><text transform="translate(16.61,617.90) scale(1.093,1)" font-size="19.2">е</text><text transform="translate(28.61,617.90) scale(1.155,1)" font-size="19.2">н</text><text transform="translate(41.24,617.90) scale(1.251,1)" font-size="19.2">т</text><text transform="translate(52.83,617.90) scale(0.910,1)" font-size="19.2">а</text><text transform="translate(64.15,617.90) scale(1.087,1)" font-size="19.2">б</text><text transform="translate(76.47,617.90) scale(1.093,1)" font-size="19.2">е</text><text transform="translate(88.86,617.90) scale(1.032,1)" font-size="19.2">л</text><text transform="translate(100.98,617.90) scale(1.083,1)" font-size="19.2">ь</text><text transform="translate(112.34,617.90) scale(1.155,1)" font-size="19.2">н</text><text transform="translate(125.02,617.90) scale(1.076,1)" font-size="19.2">о</text><text transform="translate(136.94,617.90) scale(1.015,1)" font-size="19.2">с</text><text transform="translate(147.54,617.90) scale(1.251,1)" font-size="19.2">т</text><text transform="translate(158.96,617.90) scale(1.128,1)" font-size="19.2">и</text></g>
<g id="t48" stroke="#000" stroke-width="0.15"><text transform="translate(177.70,617.90) scale(1.175,1)" font-size="19.2">п</text><text transform="translate(190.49,617.90) scale(1.090,1)" font-size="19.2">р</text><text transform="translate(202.49,617.90) scale(1.083,1)" font-size="19.2">е</text><text transform="translate(214.96,617.90) scale(1.057,1)" font-size="19.2">д</text><text transform="translate(227.64,617.90) scale(1.175,1)" font-size="19.2">п</text><text transform="translate(240.43,617.90) scale(1.090,1)" font-size="19.2">р</text><text transform="translate(252.51,617.90) scale(1.118,1)" font-size="19.2">и</text><text transform="translate(265.69,617.90) scale(0.994,1)" font-size="19.2">я</text><text transform="translate(276.49,617.90) scale(1.239,1)" font-size="19.2">т</text><text transform="translate(287.80,617.90) scale(1.118,1)" font-size="19.2">и</text><text transform="translate(300.98,617.90) scale(0.994,1)" font-size="19.2">я</text><text transform="translate(312.33,617.90) scale(1.324,1)" font-size="19.2">”</text><text transform="translate(323.04,617.90) scale(0.847,1)" font-size="19.2">)</text><text transform="translate(329.26,617.90) scale(1.085,1)" font-size="19.2">.</text></g>
</svg>
</body></html>
